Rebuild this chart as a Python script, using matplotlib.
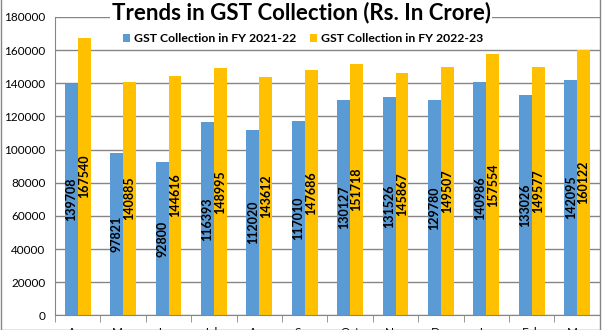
import numpy as np
import matplotlib.pyplot as plt
from matplotlib.patches import Rectangle

# Monthly GST collection, Rs. crore
months = ['Apr', 'May', 'June', 'July', 'Aug', 'Sep', 'Oct',
          'Nov', 'Dec', 'Jan', 'Feb', 'Mar']
fy_2122 = [139708, 97821, 92800, 116393, 112020, 117010, 130127,
           131526, 129780, 140986, 133026, 142095]
fy_2223 = [167540, 140885, 144616, 148995, 143612, 147686, 151718,
           145867, 149507, 157554, 149577, 160122]

blue = '#5B9BD5'
yellow = '#FFC000'

plt.rcParams['font.family'] = ['Lato', 'DejaVu Sans']

fig = plt.figure(figsize=(6.02, 3.30), dpi=100)
ax = fig.add_axes([0.0914, 0.044, 0.905, 0.905])

x = np.arange(len(months))
w = 0.285
b1 = ax.bar(x - w / 2, fy_2122, w, color=blue, label='GST Collection in FY 2021-22', zorder=2)
b2 = ax.bar(x + w / 2, fy_2223, w, color=yellow, label='GST Collection in FY 2022-23', zorder=2)

# value labels, vertical and centred in each bar
for bars, vals in [(b1, fy_2122), (b2, fy_2223)]:
    for bar, v in zip(bars, vals):
        ax.text(bar.get_x() + bar.get_width() / 2, v / 2, str(v),
                rotation=90, ha='center', va='center', fontsize=9,
                fontweight='bold', color='black', zorder=3)

ax.set_xlim(-0.5, len(months) - 0.5)
ax.set_ylim(0, 180000)
ax.set_yticks(np.arange(0, 180001, 20000))
ax.tick_params(axis='y', length=0, labelsize=8.5, pad=7)
ax.yaxis.grid(True, color='#868686', linewidth=1, zorder=0)

ax.set_xticks(x)
ax.set_xticklabels(months, fontsize=8.5)
ax.set_xticks(np.arange(-0.5, len(months)), minor=True)
ax.tick_params(axis='x', which='major', length=0, pad=8)
ax.tick_params(axis='x', which='minor', length=5, color='#868686')

for s in ['top', 'right']:
    ax.spines[s].set_visible(False)
ax.spines['left'].set_color('#868686')
ax.spines['bottom'].set_color('#868686')

fig.legend(loc='center', bbox_to_anchor=(0.503, 0.883), ncol=2,
           frameon=False, prop={'size': 8.8, 'weight': 'bold'},
           handlelength=0.6, handleheight=0.6,
           columnspacing=1.1, handletextpad=0.3)

fig.text(0.5, 0.962, 'Trends in GST Collection (Rs. In Crore)', ha='center', va='center',
         fontsize=16, fontweight='bold',
         bbox=dict(facecolor='white', edgecolor='none', pad=1))

# chart border
fig.patches.append(Rectangle((0.001, 0.0), 0.995, 1.2, transform=fig.transFigure,
                             fill=False, edgecolor='#868686', linewidth=1))

fig.savefig('out.png', dpi=100)
